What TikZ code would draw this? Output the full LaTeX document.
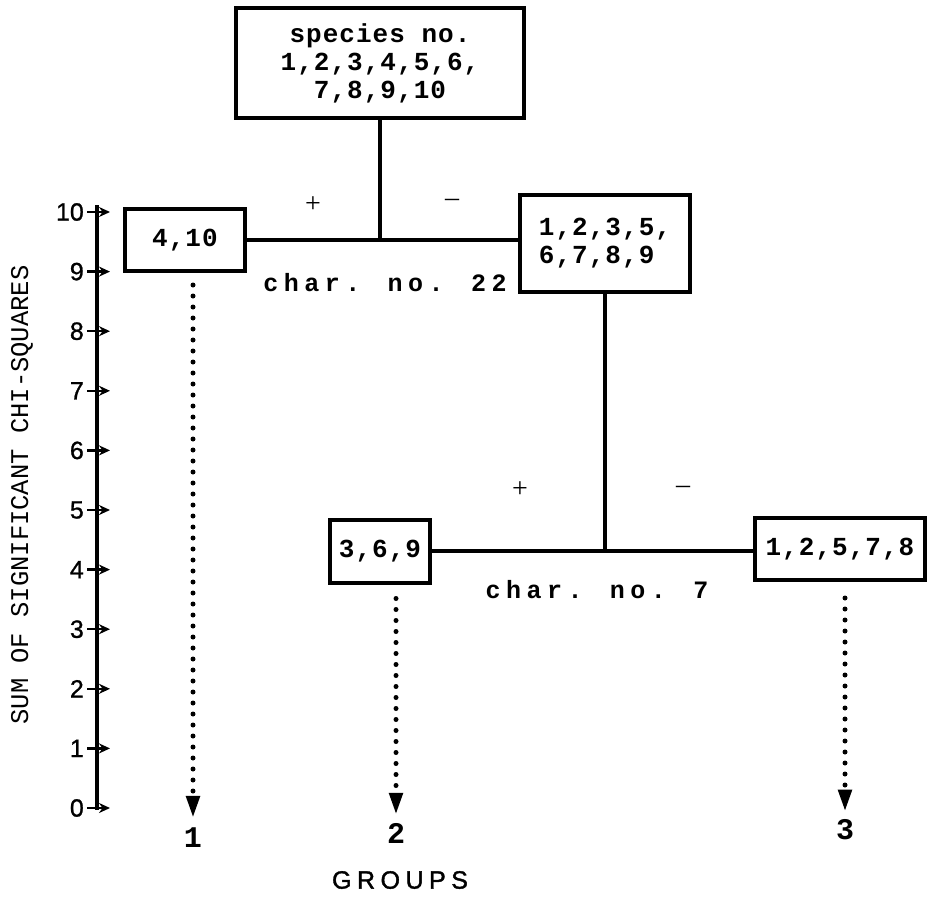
\documentclass[tikz,border=0pt]{standalone}
\usepackage{fontspec}
\setmainfont{Liberation Serif}
\newfontfamily\boxfont{Liberation Mono}[LetterSpace=4]
\newfontfamily\charfont{Liberation Mono}[LetterSpace=22]
\newfontfamily\axisfont{Liberation Sans}[FakeBold=1]
\newfontfamily\ylabfont{Liberation Mono}
\newfontfamily\groupfont{Liberation Sans}[LetterSpace=22,FakeBold=1.5]
\usetikzlibrary{arrows.meta}

\begin{document}
\begin{tikzpicture}[x=1pt,y=-1pt,
    box/.style={draw,line width=4pt,inner sep=0pt,align=center,
      font=\boxfont\bfseries\fontsize{26}{28}\selectfont},
    link/.style={line width=3.5pt},
    charlab/.style={font=\charfont\bfseries\fontsize{25}{28}\selectfont},
    sign/.style={font=\fontsize{28}{30}\selectfont},
    grouplab/.style={font=\boxfont\bfseries\fontsize{30}{32}\selectfont,inner sep=0pt},
    dotarrow/.style={line width=5pt,line cap=round,dash pattern=on 0pt off 11pt,
      -{Triangle[width=13pt,length=22pt]}},
    tick/.style={line width=2.5pt,-{Stealth[length=11pt,width=10pt]}},
    ticklab/.style={anchor=east,inner sep=0pt,font=\axisfont\fontsize{25}{27}\selectfont}]
  \useasboundingbox (0,0) rectangle (935,897);
  % boxes of species
  \node[box,minimum width=288pt,minimum height=110pt] (top) at (380,63)
    {species no.\\1,2,3,4,5,6,\\7,8,9,10};
  \node[box,minimum width=120pt,minimum height=62pt] (g1) at (185,240) {4,10};
  \node[box,minimum width=170pt,minimum height=97pt,align=left] (rest) at (605,243)
    {1,2,3,5,\\6,7,8,9};
  \node[box,minimum width=100pt,minimum height=63pt] (g2) at (380,551) {3,6,9};
  \node[box,minimum width=170pt,minimum height=62pt] (g3) at (840,549) {1,2,5,7,8};
  % first split
  \draw[link] (g1.east) -- (g1.east -| rest.west);
  \draw[link] (top.south) -- (top.south |- g1.east);
  \node[sign] (p1) at (313,205) {+};
  \node[sign] (m1) at (452,203) {\textendash};
  \node[charlab] (c22) at (385,283) {char. no. 22};
  % second split
  \draw[link] (g2.east) -- (g2.east -| g3.west);
  \draw[link] (rest.south) -- (rest.south |- g2.east);
  \node[sign] (p2) at (520,490) {+};
  \node[sign] (m2) at (683,490) {\textendash};
  \node[charlab] (c7) at (597,590) {char. no. 7};
  % groups
  \node[grouplab] (grp1) at (193,838) {1};
  \node[grouplab] (grp2) at (396,833) {2};
  \node[grouplab] (grp3) at (845,830) {3};
  \draw[dotarrow] (g1.south -| grp1) ++(0,12) -- ([yshift=10pt]grp1.north);
  \draw[dotarrow] (g2.south -| grp2) ++(0,14) -- ([yshift=8pt]grp2.north);
  \draw[dotarrow] (g3.south -| grp3) ++(0,16) -- ([yshift=8pt]grp3.north);
  \node[font=\groupfont\fontsize{25}{27}\selectfont] (groups) at (400,880) {GROUPS};
  % axis
  \draw[line width=4pt] (97,205) -- (97,810);
  \foreach \v in {0,...,10} {
    \draw[tick] (87,808-59.6*\v) -- (110,808-59.6*\v);
    \node[ticklab] (n\v) at (84,808-59.6*\v) {\v};
  }
  \node[rotate=90,font=\ylabfont\fontsize{25.5}{27}\selectfont] (ylab) at (22,495)
    {SUM OF SIGNIFICANT CHI-SQUARES};
\end{tikzpicture}
\end{document}
